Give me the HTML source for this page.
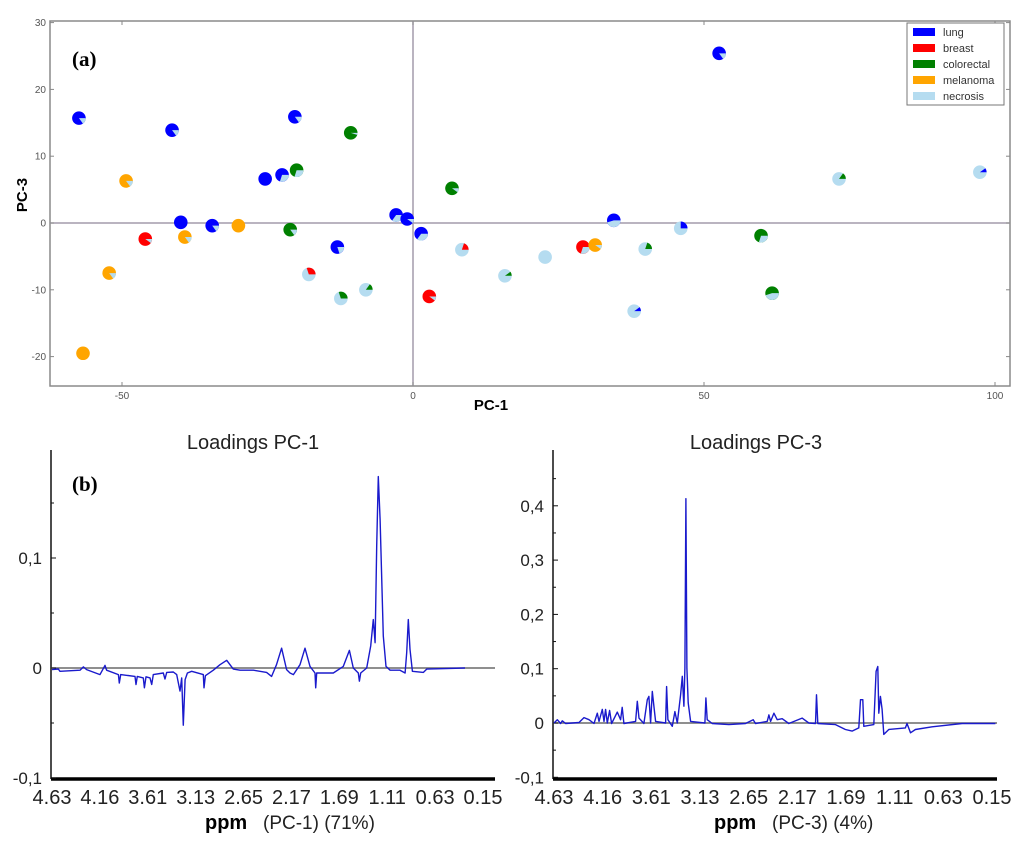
<!DOCTYPE html>
<html><head><meta charset="utf-8"><style>
html,body{margin:0;padding:0;background:#fff;}
svg{display:block;font-family:"Liberation Sans",sans-serif;}
</style></head><body>
<svg id="fig" width="1024" height="846" viewBox="0 0 1024 846" xmlns="http://www.w3.org/2000/svg">
<g id="top"></g>
<g id="bl"></g>
<g id="br"></g>
</svg>
<script>
// ---- PCA scores data ----
const pcX = [-57.4,-41.4,-20.3,-10.7,-49.3,-25.4,-22.5,-20,6.7,-39.9,-34.5,-30,-46,-39.2,-21.1,-2.9,-1,1.4,-13,-52.2,-17.9,-12.4,-8.1,2.8,-56.7,8.4,15.8,52.6,73.2,97.4,34.5,46,59.8,61.7,29.2,31.3,39.9,22.7,38];
const pcY = [15.7,13.9,15.9,13.5,6.3,6.6,7.2,7.9,5.2,0.1,-0.4,-0.4,-2.4,-2.1,-1,1.2,0.6,-1.6,-3.6,-7.5,-7.7,-11.3,-10,-11,-19.5,-4,-7.9,25.4,6.6,7.6,0.4,-0.8,-1.9,-10.5,-3.6,-3.3,-3.9,-5.1,-13.2];
const mainClass = ["lung","lung","lung","colorectal","melanoma","lung","lung","colorectal","colorectal","lung","lung","melanoma","breast","melanoma","colorectal","lung","lung","lung","lung","melanoma","necrosis","necrosis","necrosis","breast","melanoma","necrosis","necrosis","lung","necrosis","necrosis","lung","necrosis","colorectal","colorectal","breast","melanoma","necrosis","necrosis","necrosis"];
const secondClass = ["necrosis","necrosis","necrosis","necrosis","necrosis","necrosis","necrosis","necrosis","necrosis","necrosis","necrosis","necrosis","necrosis","necrosis","necrosis","necrosis","necrosis","necrosis","necrosis","necrosis","breast","colorectal","colorectal","necrosis","necrosis","breast","colorectal","necrosis","colorectal","lung","necrosis","lung","necrosis","necrosis","necrosis","necrosis","colorectal","necrosis","lung"];
const mainFrac = [0.85,0.85,0.85,0.95,0.85,1,0.7,0.7,0.9,1,0.85,1,0.9,0.85,0.85,0.65,0.9,0.65,0.8,0.85,0.7,0.7,0.85,0.9,1,0.8,0.9,0.85,0.85,0.9,0.55,0.75,0.7,0.55,0.7,0.9,0.8,1,0.9];
const classNames = ["lung","breast","colorectal","melanoma","necrosis"];
const classColors = ["#0000ff","#ff0000","#008000","#ffa500","#b5dcf0"];
const pcXTicks = [-50,0,50,100];
const pcYTicks = [30,20,10,0,-10,-20];

// ---- Loadings PC-1 ----
const l1Ppm = [4.63,4.564,4.547,4.339,4.304,4.27,4.131,4.079,4.062,3.94,3.93,3.916,3.767,3.757,3.743,3.681,3.67,3.653,3.611,3.594,3.577,3.473,3.455,3.438,3.369,3.334,3.299,3.282,3.265,3.247,3.223,3.178,3.057,3.05,3.036,2.953,2.884,2.814,2.745,2.676,2.537,2.399,2.347,2.296,2.243,2.191,2.156,2.121,2.052,2.0,1.948,1.896,1.889,1.879,1.706,1.602,1.539,1.498,1.446,1.435,1.421,1.359,1.317,1.29,1.272,1.255,1.238,1.22,1.186,1.158,1.116,1.013,0.96,0.943,0.926,0.909,0.884,0.77,0.735,0.337];
const l1Val = [-0.0015,-0.0009,-0.003,-0.002,0.001,-0.0015,-0.006,0.0024,-0.002,-0.006,-0.0136,-0.006,-0.0076,-0.015,-0.0076,-0.009,-0.018,-0.008,-0.009,-0.015,-0.006,-0.0045,-0.010,-0.004,-0.0036,-0.006,-0.021,-0.009,-0.052,-0.0106,-0.0045,-0.003,-0.006,-0.018,-0.007,-0.002,0.003,0.007,-0.001,-0.002,-0.002,-0.004,-0.0076,0.003,0.018,-0.0015,-0.0045,-0.006,0.003,0.018,0.0015,-0.0045,-0.018,-0.0045,-0.0045,0.0015,0.016,0.0,-0.0045,-0.012,-0.0045,0.0,0.020,0.044,0.023,0.111,0.174,0.135,0.029,0.0015,-0.002,-0.002,-0.0045,0.014,0.044,0.017,-0.003,-0.004,-0.001,0.0];
const l1YTicks = [0.1,0,-0.1];
const l1YLabels = ["0,1","0","-0,1"];
const l1YMinor = [0.15,0.05,-0.05];

// ---- Loadings PC-3 ----
const l3Ppm = [4.63,4.596,4.562,4.545,4.511,4.374,4.323,4.272,4.221,4.187,4.17,4.136,4.119,4.102,4.085,4.061,4.041,3.983,3.949,3.932,3.915,3.795,3.778,3.761,3.71,3.676,3.659,3.642,3.625,3.608,3.591,3.489,3.478,3.465,3.42,3.393,3.369,3.335,3.318,3.301,3.291,3.281,3.271,3.257,3.233,3.087,3.076,3.063,3.012,2.841,2.671,2.593,2.569,2.449,2.432,2.415,2.381,2.347,2.296,2.228,2.092,2.024,1.955,1.945,1.932,1.751,1.649,1.581,1.512,1.495,1.472,1.461,1.359,1.335,1.318,1.308,1.291,1.274,1.257,1.206,1.036,1.019,0.984,0.933,0.763,0.456,0.115];
const l3Val = [0,0.006,-0.001,0.004,-0.001,0.001,0.010,0.006,-0.001,0.018,0.003,0.025,0.003,0.025,0,0.023,-0.001,0.020,0.006,0.029,-0.001,0.003,0.040,0.009,-0.001,0.043,0.049,0,0.058,0.031,0.003,0,0.067,0.006,-0.006,0.021,0,0.052,0.086,0.031,0.101,0.413,0.101,0.037,0.003,0,0.046,0.006,-0.001,-0.003,-0.001,0.006,-0.001,0.003,0.015,0.003,0.018,0.006,0.008,-0.001,0.009,0,-0.001,0.052,-0.001,-0.003,-0.012,-0.015,-0.009,0.043,0.043,-0.006,-0.003,0.095,0.104,0.018,0.049,0.025,-0.021,-0.012,-0.009,-0.001,-0.018,-0.012,-0.007,-0.001,-0.001];
const l3YTicks = [0.4,0.3,0.2,0.1,0,-0.1];
const l3YLabels = ["0,4","0,3","0,2","0,1","0","-0,1"];
const l3YMinor = [0.45,0.35,0.25,0.15,0.05,-0.05];
const ppmLabels = ["4.63","4.16","3.61","3.13","2.65","2.17","1.69","1.11","0.63","0.15"];

const NS = "http://www.w3.org/2000/svg";
function mk(parent, tag, attrs, text){
  const e = document.createElementNS(NS, tag);
  for (const k in attrs) e.setAttribute(k, attrs[k]);
  if (text !== undefined) e.textContent = text;
  parent.appendChild(e);
  return e;
}

// ===== Top chart =====
(function(){
  const g = document.getElementById('top');
  const xS = v => 413 + v*5.82;
  const yS = v => 223 - v*6.68;
  let e = mk(g,'rect',{x:50,y:21,width:960,height:365,fill:'#fff',stroke:'#8a8a8a','stroke-width':1.5});
   
  e = mk(g,'line',{x1:xS(0),y1:21,x2:xS(0),y2:386,stroke:'#a49cab','stroke-width':1.5});
   
  e = mk(g,'line',{x1:50,y1:yS(0),x2:1010,y2:yS(0),stroke:'#a49cab','stroke-width':1.5});
   
  pcXTicks.forEach(t=>{
    const x = xS(t);
    mk(g,'line',{x1:x,y1:386,x2:x,y2:382,stroke:'#888'});
    mk(g,'line',{x1:x,y1:21,x2:x,y2:25,stroke:'#888'});
    const tx = mk(g,'text',{x:x,y:399,'font-size':10,fill:'#555','text-anchor':'middle'},String(t));
     
  });
  pcYTicks.forEach(t=>{
    const y = yS(t);
    mk(g,'line',{x1:50,y1:y,x2:54,y2:y,stroke:'#888'});
    mk(g,'line',{x1:1010,y1:y,x2:1006,y2:y,stroke:'#888'});
    const tx = mk(g,'text',{x:46,y:y+3.5,'font-size':10,fill:'#555','text-anchor':'end'},String(t));
     
  });
  e = mk(g,'text',{x:491,y:410,'font-size':15,'font-weight':'bold','text-anchor':'middle'},'PC-1');
   
  e = mk(g,'text',{x:0,y:0,'font-size':15,'font-weight':'bold','text-anchor':'middle',transform:'translate(27,195) rotate(-90)'},'PC-3');
   
  e = mk(g,'text',{x:72,y:66,'font-size':21,'font-weight':'bold','font-family':'"Liberation Serif",serif'},'(a)');
   
  const col = c => classColors[classNames.indexOf(c)];
  const r = 6.8;
  function wedge(cx,cy,a0,a1,fill){
    const rad = a=>a*Math.PI/180;
    const large = (a1-a0)>180?1:0;
    const d = `M${cx},${cy} L${cx+r*Math.cos(rad(a0))},${cy+r*Math.sin(rad(a0))} A${r},${r} 0 ${large} 1 ${cx+r*Math.cos(rad(a1))},${cy+r*Math.sin(rad(a1))} Z`;
    return mk(g,'path',{d:d,fill:fill});
  }
  pcX.forEach((v,i)=>{
    const cx = xS(v), cy = yS(pcY[i]);
    const f = mainFrac[i];
    const m = mk(g,'circle',{cx:cx,cy:cy,r:r,fill:col(mainClass[i])});
    
    
    if (f < 1) {
      const s = (1-f)*360;
      let a0, a1;
      if (secondClass[i]==='necrosis'){ a0=0; a1=s; } else { a0=-s; a1=0; }
      const w = wedge(cx,cy,a0,a1,col(secondClass[i]));
      
      
    }
  });
  const lg = mk(g,'g',{});
   
  mk(lg,'rect',{x:907,y:23,width:97,height:82,fill:'#fff',stroke:'#777','stroke-width':1});
  classNames.forEach((c,i)=>{
    const y = 32 + i*16;
    const sw = mk(lg,'rect',{x:913,y:y-4,width:22,height:8,fill:classColors[i]});
     
    const t = mk(lg,'text',{x:943,y:y+4,'font-size':11,fill:'#333'},c);
     
  });
})();

// ===== Loadings charts =====
function loadings(gid, axX, xEnd, zeroY, pxPer, x0, x1, ppmArr, valArr, yt, yl, ym, title, titleX, pcLabel, ppmX, pcX2, panel){
  const g = document.getElementById(gid);
  const xS = p => x0 + (4.63-p)*(x1-x0)/4.48;
  const yS = v => zeroY - v*pxPer;
  let e = mk(g,'text',{x:titleX,y:449,'font-size':20,'text-anchor':'middle',fill:'#222'},title);
   
  e = mk(g,'line',{x1:axX,y1:450,x2:axX,y2:779,stroke:'#111','stroke-width':1.5});
   
  e = mk(g,'line',{x1:axX,y1:779,x2:xEnd,y2:779,stroke:'#000','stroke-width':3.5});
   
  e = mk(g,'line',{x1:axX,y1:zeroY,x2:xEnd,y2:zeroY,stroke:'#6a6a6a','stroke-width':1.5});
   
  yt.forEach((t,i)=>{
    const y = yS(t);
    mk(g,'line',{x1:axX,y1:y,x2:axX+5,y2:y,stroke:'#111'});
    const tx = mk(g,'text',{x:axX-9,y:y+6,'font-size':17,'text-anchor':'end',fill:'#222'},yl[i]);
     
  });
  ym.forEach(t=>{ const y=yS(t); if(y>450) mk(g,'line',{x1:axX,y1:y,x2:axX+3,y2:y,stroke:'#111'}); });
  ppmLabels.forEach((l,i)=>{
    const x = x0 + i*(x1-x0)/(ppmLabels.length-1);
    const tx = mk(g,'text',{x:x,y:804,'font-size':20,'text-anchor':'middle',fill:'#222'},l);
     
  });
  e = mk(g,'text',{x:ppmX,y:829,'font-size':20,'font-weight':'bold'},'ppm');
   
  e = mk(g,'text',{x:pcX2,y:829,'font-size':19,fill:'#222'},pcLabel);
   
  const pts = ppmArr.map((p,i)=>xS(p).toFixed(1)+','+yS(valArr[i]).toFixed(1)).join(' ');
  e = mk(g,'polyline',{points:pts,fill:'none',stroke:'#1a1acc','stroke-width':1.4,'stroke-linejoin':'round'});
   
  if (panel){
    e = mk(g,'text',{x:72,y:491,'font-size':21,'font-weight':'bold','font-family':'"Liberation Serif",serif'},panel);
     
  }
}
loadings('bl',51,495,668,1100,52,483,l1Ppm,l1Val,l1YTicks,l1YLabels,l1YMinor,'Loadings PC-1',253,'(PC-1) (71%)',205,263,'(b)');
loadings('br',553,997,723,543,554,992,l3Ppm,l3Val,l3YTicks,l3YLabels,l3YMinor,'Loadings PC-3',756,'(PC-3) (4%)',714,772,null);
</script>
</body></html>
